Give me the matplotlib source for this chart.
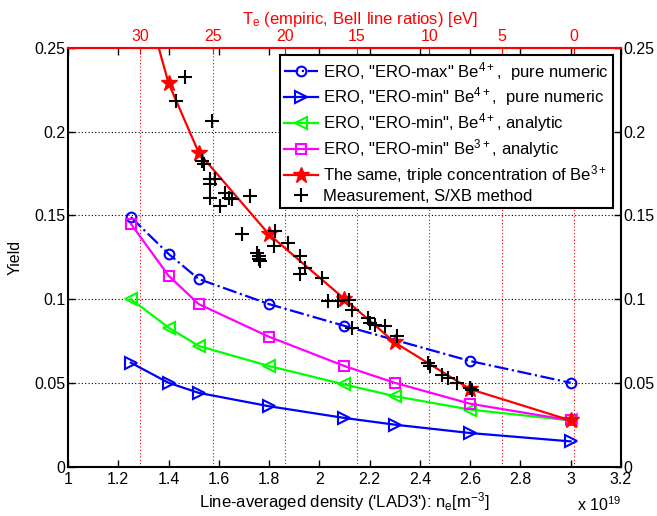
import numpy as np
import matplotlib
matplotlib.use('Agg')
from matplotlib import pyplot as plt
from matplotlib.ticker import FuncFormatter

plt.rcParams['font.family'] = ['Liberation Sans', 'DejaVu Sans']
plt.rcParams['mathtext.default'] = 'regular'

# line-averaged density, units of 1e19 m^-3
dens = [1.25, 1.4, 1.52, 1.8, 2.1, 2.3, 2.6, 3.0]
dens_max = [1.25, 1.4, 1.52, 1.8, 2.1, 2.6, 3.0]

ero_max_num = [0.149, 0.127, 0.112, 0.097, 0.084, 0.063, 0.050]
ero_min_num = [0.062, 0.050, 0.044, 0.036, 0.029, 0.025, 0.020, 0.015]
ero_min_ana4 = [0.100, 0.083, 0.072, 0.060, 0.049, 0.042, 0.034, 0.0275]
ero_min_ana3 = [0.145, 0.114, 0.097, 0.0775, 0.060, 0.050, 0.0375, 0.0275]
triple_be3 = [0.31, 0.229, 0.1875, 0.1386, 0.1001, 0.0741, 0.0462, 0.0275]

meas_n = [1.467, 1.431, 1.573, 1.533, 1.542, 1.566, 1.586, 1.563, 1.566, 1.626,
          1.639, 1.652, 1.606, 1.725, 1.692, 1.824, 1.818, 1.877, 1.752, 1.758,
          1.765, 1.761, 1.924, 1.944, 1.924, 2.010, 2.036, 2.076, 2.116, 2.129,
          2.129, 2.195, 2.202, 2.222, 2.261, 2.308, 2.433, 2.440, 2.487, 2.513,
          2.546, 2.599, 2.606]
meas_y = [0.2325, 0.2184, 0.2065, 0.1825, 0.1805, 0.1716, 0.1716, 0.1686, 0.1606, 0.1636,
          0.1606, 0.1596, 0.1556, 0.1616, 0.1386, 0.1406, 0.1316, 0.1337, 0.1277, 0.1237,
          0.1226, 0.1260, 0.1256, 0.1187, 0.1147, 0.1127, 0.0987, 0.0987, 0.0997, 0.0937,
          0.0828, 0.0887, 0.0857, 0.0847, 0.0837, 0.0777, 0.0618, 0.0602, 0.0548, 0.0528,
          0.0498, 0.0468, 0.0458]

te_ticks = [0, 5, 10, 15, 20, 25, 30]


# empiric Te from density (linear)
def n2te(n):
    return 17.4 * (3.012 - np.asarray(n))


def te2n(t):
    return 3.012 - np.asarray(t) / 17.4


fs = 11.5
fig = plt.figure(figsize=(6.57, 5.16), dpi=100)
ax = fig.add_axes([0.1035, 0.0959, 0.8417, 0.8111])

for t in te_ticks:
    ax.axvline(te2n(t), color='red', linestyle=(0, (1, 2)), linewidth=0.8, zorder=0)
ax.grid(axis='y', color='black', linestyle=(0, (1, 2)), linewidth=0.8)
ax.set_axisbelow(True)

ax.plot(dens_max, ero_max_num, '-.', color='blue', marker='o', mfc='none', ms=7, mew=1.5, lw=1.6,
        label='ERO, "ERO-max" Be$^{4+}$,  pure numeric')
ax.plot(dens, ero_min_num, '-', color='blue', marker='>', mfc='none', ms=8, mew=1.5, lw=1.6,
        label='ERO, "ERO-min" Be$^{4+}$,  pure numeric')
ax.plot(dens, ero_min_ana4, '-', color=(0, 1, 0), marker='<', mfc='none', ms=8, mew=1.5, lw=1.6,
        label='ERO, "ERO-min", Be$^{4+}$, analytic')
ax.plot(dens, ero_min_ana3, '-', color='magenta', marker='s', mfc='none', ms=7, mew=1.5, lw=1.6,
        label='ERO, "ERO-min" Be$^{3+}$, analytic')
ax.plot(dens, triple_be3, '-', color='red', marker='*', mfc='red', ms=12, mew=1, lw=1.6,
        label='The same, triple concentration of Be$^{3+}$')
ax.plot(meas_n, meas_y, '+', color='black', ms=10, mew=1.5,
        label='Measurement, S/XB method')

ax.set_xlim(1, 3.2)
ax.set_ylim(0, 0.25)
ax.set_xticks(np.arange(1, 3.21, 0.2))
ax.set_yticks(np.arange(0, 0.251, 0.05))
fmt = FuncFormatter(lambda v, p: '%g' % round(v, 3))
ax.xaxis.set_major_formatter(fmt)
ax.yaxis.set_major_formatter(fmt)
ax.tick_params(direction='in', top=True, right=True, labelright=True, labelsize=fs,
               width=1, length=5, pad=2)
ax.tick_params(axis='x', pad=4)
for s in ax.spines.values():
    s.set_linewidth(1.5)
ax.spines['top'].set_color('red')

ax.set_ylabel('Yield', fontsize=fs, labelpad=8)
ax.set_xlabel("Line-averaged density ('LAD3'): n$_e$[m$^{-3}$]", fontsize=12, labelpad=2)
ax.text(1.0, -0.068, 'x 10$^{19}$', transform=ax.transAxes, ha='right', va='top', fontsize=fs)

sec = ax.secondary_xaxis('top', functions=(n2te, te2n))
sec.set_xticks(te_ticks)
sec.tick_params(direction='in', colors='red', labelsize=fs, length=4, pad=3)
sec.spines['top'].set_color('red')
sec.spines['top'].set_linewidth(1.5)
ax.text(0.528, 1.058, 'T$_e$ (empiric, BeII line ratios) [eV]', color='red', fontsize=12,
        transform=ax.transAxes, ha='center', va='baseline')

leg = ax.legend(loc='upper right', fontsize=12, fancybox=False, framealpha=1,
                edgecolor='black', handlelength=2.0, labelspacing=0.18,
                borderaxespad=0.45, handletextpad=0.35, borderpad=0.25)
leg.get_frame().set_linewidth(1.5)

plt.savefig('out.png', dpi=100)
